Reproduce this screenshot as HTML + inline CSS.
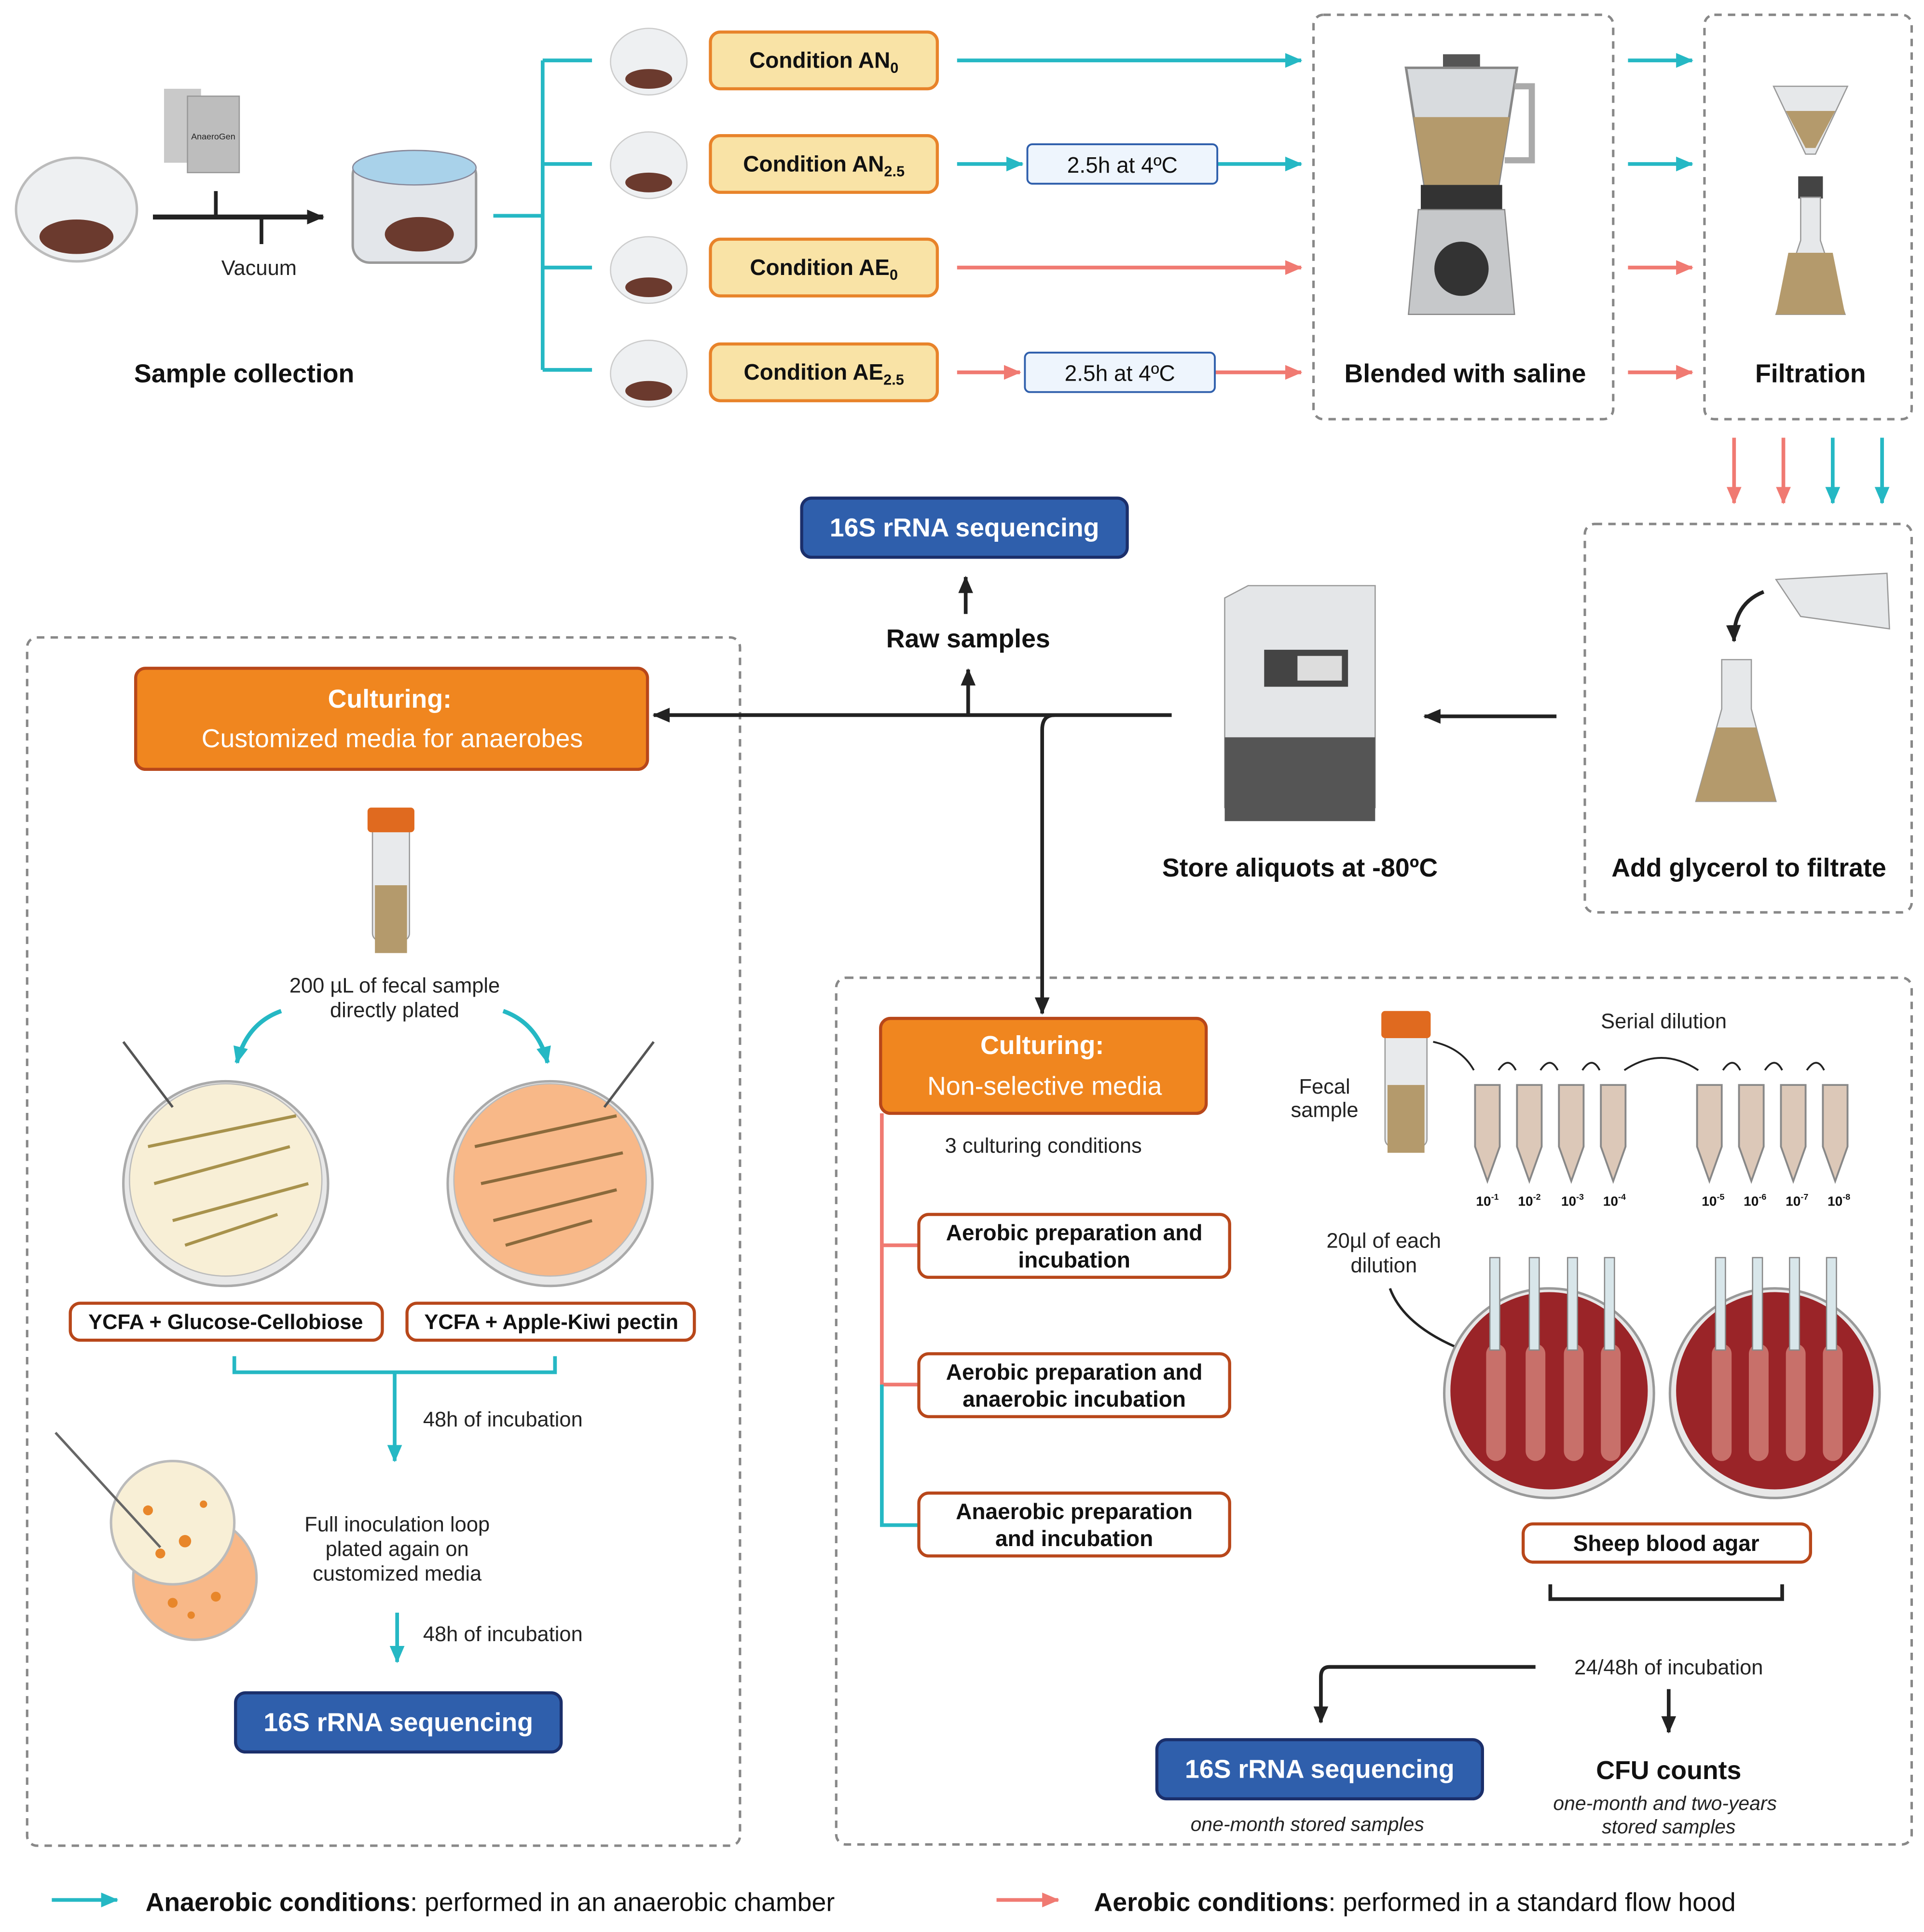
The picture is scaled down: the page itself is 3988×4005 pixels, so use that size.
<!DOCTYPE html>
<html><head><meta charset="utf-8"><style>html,body{margin:0;padding:0;background:#fff}svg{display:block}text{font-family:"Liberation Sans",Arial,sans-serif}</style></head>
<body>
<svg width="3988" height="4005" viewBox="0 0 1560 1567" preserveAspectRatio="none" xmlns="http://www.w3.org/2000/svg">
<defs>
<marker id="at" markerWidth="8" markerHeight="8" refX="7" refY="4" orient="auto" markerUnits="userSpaceOnUse"><path d="M0,0 L8,4 L0,8z" fill="#25b8c4"/></marker>
<marker id="ap" markerWidth="8" markerHeight="8" refX="7" refY="4" orient="auto" markerUnits="userSpaceOnUse"><path d="M0,0 L8,4 L0,8z" fill="#f07a72"/></marker>
<marker id="ak" markerWidth="14" markerHeight="12" refX="13" refY="6" orient="auto" markerUnits="userSpaceOnUse"><path d="M0,0 L14,6 L0,12z" fill="#222"/></marker>
<marker id="at2" markerWidth="14" markerHeight="12" refX="13" refY="6" orient="auto" markerUnits="userSpaceOnUse"><path d="M0,0 L14,6 L0,12z" fill="#25b8c4"/></marker>
<marker id="ap2" markerWidth="14" markerHeight="12" refX="13" refY="6" orient="auto" markerUnits="userSpaceOnUse"><path d="M0,0 L14,6 L0,12z" fill="#f07a72"/></marker>
</defs>
<rect width="1560" height="1567" fill="#fff"/>

<!-- dashed boxes -->
<g fill="none" stroke="#888" stroke-width="2" stroke-dasharray="6,5">
<rect x="1065" y="12" width="243" height="328" rx="8"/>
<rect x="1382" y="12" width="168" height="328" rx="8"/>
<rect x="1285" y="425" width="265" height="315" rx="8"/>
<rect x="22" y="517" width="578" height="980" rx="8"/>
<rect x="678" y="793" width="872" height="703" rx="8"/>
</g>

<!-- sample collection -->
<ellipse cx="62" cy="170" rx="49" ry="42" fill="#eef0f2" stroke="#bbb" stroke-width="2"/>
<ellipse cx="62" cy="192" rx="30" ry="14" fill="#6b3a2e"/>
<rect x="133" y="72" width="30" height="60" fill="#c9c9c9"/>
<rect x="152" y="78" width="42" height="62" fill="#bdbdbd" stroke="#999"/>
<text x="155" y="113" font-size="7" fill="#222">AnaeroGen</text>
<path d="M124 176 H262" stroke="#222" stroke-width="4" marker-end="url(#ak)"/>
<path d="M175 155 V176 M212 176 V198" stroke="#222" stroke-width="3" fill="none"/>
<text x="210" y="223" font-size="17" text-anchor="middle" fill="#222">Vacuum</text>
<rect x="286" y="128" width="100" height="85" rx="14" fill="#e3e6ea" stroke="#999" stroke-width="2"/>
<ellipse cx="336" cy="136" rx="50" ry="14" fill="#a9d2ea" stroke="#889"/>
<ellipse cx="340" cy="190" rx="28" ry="14" fill="#6b3a2e"/>
<text x="198" y="310" font-size="21" font-weight="bold" text-anchor="middle" fill="#111">Sample collection</text>

<!-- teal bracket -->
<path d="M400 175 H440 M440 49 V300 M440 49 H480 M440 133 H480 M440 217 H480 M440 300 H480" stroke="#25b8c4" stroke-width="3" fill="none"/>

<!-- 4 rows -->
<g>
<ellipse cx="526" cy="50" rx="31" ry="27" fill="#eef0f2" stroke="#ccc"/><ellipse cx="526" cy="64" rx="19" ry="8" fill="#6b3a2e"/>
<ellipse cx="526" cy="134" rx="31" ry="27" fill="#eef0f2" stroke="#ccc"/><ellipse cx="526" cy="148" rx="19" ry="8" fill="#6b3a2e"/>
<ellipse cx="526" cy="219" rx="31" ry="27" fill="#eef0f2" stroke="#ccc"/><ellipse cx="526" cy="233" rx="19" ry="8" fill="#6b3a2e"/>
<ellipse cx="526" cy="303" rx="31" ry="27" fill="#eef0f2" stroke="#ccc"/><ellipse cx="526" cy="317" rx="19" ry="8" fill="#6b3a2e"/>
</g>
<g fill="#f9e3a6" stroke="#e8832a" stroke-width="2.5">
<rect x="576" y="26" width="184" height="46" rx="8"/><rect x="576" y="110" width="184" height="46" rx="8"/>
<rect x="576" y="194" width="184" height="46" rx="8"/><rect x="576" y="279" width="184" height="46" rx="8"/>
</g>
<g font-size="18" font-weight="bold" fill="#111" text-anchor="middle">
<text x="668" y="55">Condition  AN<tspan font-size="12" dy="4">0</tspan></text>
<text x="668" y="139">Condition  AN<tspan font-size="12" dy="4">2.5</tspan></text>
<text x="668" y="223">Condition  AE<tspan font-size="12" dy="4">0</tspan></text>
<text x="668" y="308">Condition  AE<tspan font-size="12" dy="4">2.5</tspan></text>
</g>
<g stroke-width="3" fill="none">
<path d="M776 49 H1055" stroke="#25b8c4" marker-end="url(#at2)"/>
<path d="M776 133 H829" stroke="#25b8c4" marker-end="url(#at2)"/>
<path d="M987 133 H1055" stroke="#25b8c4" marker-end="url(#at2)"/>
<path d="M776 217 H1055" stroke="#f07a72" marker-end="url(#ap2)"/>
<path d="M776 302 H827" stroke="#f07a72" marker-end="url(#ap2)"/>
<path d="M985 302 H1055" stroke="#f07a72" marker-end="url(#ap2)"/>
<path d="M1320 49 H1372" stroke="#25b8c4" marker-end="url(#at2)"/>
<path d="M1320 133 H1372" stroke="#25b8c4" marker-end="url(#at2)"/>
<path d="M1320 217 H1372" stroke="#f07a72" marker-end="url(#ap2)"/>
<path d="M1320 302 H1372" stroke="#f07a72" marker-end="url(#ap2)"/>
<path d="M1406 355 V408" stroke="#f07a72" marker-end="url(#ap2)"/>
<path d="M1446 355 V408" stroke="#f07a72" marker-end="url(#ap2)"/>
<path d="M1486 355 V408" stroke="#25b8c4" marker-end="url(#at2)"/>
<path d="M1526 355 V408" stroke="#25b8c4" marker-end="url(#at2)"/>
</g>
<g fill="#eef5fd" stroke="#2f5fac" stroke-width="1.5">
<rect x="833" y="117" width="154" height="32" rx="4"/><rect x="831" y="286" width="154" height="32" rx="4"/>
</g>
<text x="910" y="140" font-size="18" text-anchor="middle" fill="#111">2.5h at 4ºC</text>
<text x="908" y="309" font-size="18" text-anchor="middle" fill="#111">2.5h at 4ºC</text>

<!-- blender -->
<path d="M1140 55 H1230 L1215 150 H1155 Z" fill="#d8dbde" stroke="#888" stroke-width="2"/>
<path d="M1146 95 H1224 L1215 150 H1155 Z" fill="#b49a6c"/>
<rect x="1170" y="44" width="30" height="10" fill="#555"/>
<path d="M1228 70 h14 v60 h-22" fill="none" stroke="#aaa" stroke-width="5"/>
<rect x="1152" y="150" width="66" height="20" fill="#333"/>
<path d="M1150 170 H1220 L1228 255 H1142 Z" fill="#c6c8ca" stroke="#888"/>
<circle cx="1185" cy="218" r="22" fill="#333"/>
<text x="1188" y="310" font-size="21" font-weight="bold" text-anchor="middle" fill="#111">Blended with saline</text>

<!-- filtration -->
<path d="M1438 70 H1498 L1472 125 H1464 Z" fill="#e6e8ea" stroke="#999"/>
<path d="M1448 90 H1488 L1472 120 H1464 Z" fill="#b49a6c"/>
<rect x="1458" y="143" width="20" height="18" fill="#444"/>
<path d="M1460 160 V195 L1440 255 H1496 L1476 195 V160 Z" fill="#e6e8ea" stroke="#999"/>
<path d="M1450 205 H1486 L1496 255 H1440 Z" fill="#b49a6c"/>
<text x="1468" y="310" font-size="21" font-weight="bold" text-anchor="middle" fill="#111">Filtration</text>

<!-- glycerol -->
<path d="M1440 470 L1530 465 L1532 510 L1460 500 Z" fill="#e6e8ea" stroke="#999"/>
<path d="M1430 480 Q1405 490 1406 520" stroke="#222" stroke-width="3" fill="none" marker-end="url(#ak)"/>
<path d="M1396 535 V575 L1375 650 H1440 L1420 575 V535 Z" fill="#e6e8ea" stroke="#999"/>
<path d="M1392 590 H1424 L1440 650 H1375 Z" fill="#b49a6c"/>
<text x="1418" y="711" font-size="21" font-weight="bold" text-anchor="middle" fill="#111">Add glycerol to filtrate</text>
<path d="M1262 581 H1155" stroke="#222" stroke-width="3" marker-end="url(#ak)"/>

<!-- freezer -->
<path d="M993 485 L1012 475 H1115 V655 H993 Z" fill="#e4e6e8" stroke="#999"/>
<rect x="993" y="598" width="122" height="68" fill="#555"/>
<rect x="1025" y="527" width="68" height="30" fill="#444"/>
<rect x="1052" y="532" width="36" height="20" fill="#ddd"/>
<text x="1054" y="711" font-size="21" font-weight="bold" text-anchor="middle" fill="#111">Store aliquots at -80ºC</text>

<!-- center connectors -->
<path d="M950 580 H530" stroke="#222" stroke-width="3" fill="none" marker-end="url(#ak)"/>
<path d="M785 580 V543" stroke="#222" stroke-width="3" fill="none" marker-end="url(#ak)"/>
<path d="M855 580 Q845 580 845 592 V822" stroke="#222" stroke-width="3" fill="none" marker-end="url(#ak)"/>
<text x="785" y="525" font-size="21" font-weight="bold" text-anchor="middle" fill="#111">Raw samples</text>
<path d="M783 498 V468" stroke="#222" stroke-width="3" marker-end="url(#ak)"/>

<!-- blue boxes -->
<g fill="#2f5fac" stroke="#1b2f6b" stroke-width="2.5">
<rect x="650" y="404" width="264" height="48" rx="8"/>
<rect x="191" y="1373" width="264" height="48" rx="8"/>
<rect x="938" y="1411" width="264" height="48" rx="8"/>
</g>
<g font-size="21" font-weight="bold" fill="#fff" text-anchor="middle">
<text x="782" y="435">16S rRNA sequencing</text>
<text x="323" y="1404">16S rRNA sequencing</text>
<text x="1070" y="1442">16S rRNA sequencing</text>
</g>

<!-- orange boxes -->
<g fill="#f0861f" stroke="#b8471a" stroke-width="2.5">
<rect x="110" y="542" width="415" height="82" rx="8"/>
<rect x="714" y="826" width="264" height="77" rx="8"/>
</g>
<g font-size="21" fill="#fff" text-anchor="middle">
<text x="316" y="574" font-weight="bold">Culturing:</text>
<text x="318" y="606">Customized media for anaerobes</text>
<text x="845" y="855" font-weight="bold">Culturing:</text>
<text x="847" y="888">Non-selective media</text>
</g>

<!-- left panel -->
<rect x="302" y="668" width="30" height="95" rx="6" fill="#e8eaec" stroke="#999"/>
<rect x="304" y="718" width="26" height="55" fill="#b49a6c"/>
<rect x="298" y="655" width="38" height="20" rx="3" fill="#e06a1f"/>
<text x="320" y="805" font-size="17" text-anchor="middle" fill="#222">200 µL of fecal sample</text>
<text x="320" y="825" font-size="17" text-anchor="middle" fill="#222">directly plated</text>
<path d="M228 820 Q200 830 192 862" stroke="#25b8c4" stroke-width="3.5" fill="none" marker-end="url(#at2)"/>
<path d="M408 820 Q436 830 444 862" stroke="#25b8c4" stroke-width="3.5" fill="none" marker-end="url(#at2)"/>
<circle cx="183" cy="960" r="83" fill="#e8e8e8" stroke="#aaa" stroke-width="2"/>
<circle cx="183" cy="957" r="78" fill="#f8efd6" stroke="#bbb"/>
<path d="M120 930 L240 905 M125 960 L235 930 M140 990 L250 960 M150 1010 L225 985" stroke="#a8924c" stroke-width="2.5"/>
<path d="M100 845 L140 898" stroke="#555" stroke-width="2"/>
<circle cx="446" cy="960" r="83" fill="#e8e8e8" stroke="#aaa" stroke-width="2"/>
<circle cx="446" cy="957" r="78" fill="#f8b888" stroke="#bbb"/>
<path d="M385 930 L500 905 M390 960 L505 935 M400 990 L500 965 M410 1010 L480 990" stroke="#8a6a3c" stroke-width="2.5"/>
<path d="M530 845 L490 898" stroke="#555" stroke-width="2"/>
<g fill="#fff" stroke="#b8471a" stroke-width="2.5">
<rect x="57" y="1057" width="253" height="30" rx="8"/><rect x="330" y="1057" width="233" height="30" rx="8"/>
</g>
<g font-size="17" font-weight="bold" fill="#111" text-anchor="middle">
<text x="183" y="1078">YCFA + Glucose-Cellobiose</text>
<text x="447" y="1078">YCFA + Apple-Kiwi pectin</text>
</g>
<path d="M190 1100 V1113 H450 V1100 M320 1113 V1185" stroke="#25b8c4" stroke-width="3" fill="none" marker-end="url(#at2)"/>
<text x="343" y="1157" font-size="17" fill="#222">48h of incubation</text>
<circle cx="158" cy="1280" r="50" fill="#f8b888" stroke="#bbb" stroke-width="2"/>
<circle cx="140" cy="1235" r="50" fill="#f8efd6" stroke="#bbb" stroke-width="2"/>
<g fill="#e8862a"><circle cx="120" cy="1225" r="4"/><circle cx="150" cy="1250" r="5"/><circle cx="130" cy="1260" r="4"/><circle cx="165" cy="1220" r="3"/><circle cx="140" cy="1300" r="4"/><circle cx="175" cy="1295" r="4"/><circle cx="155" cy="1310" r="3"/></g>
<path d="M45 1162 L130 1255" stroke="#666" stroke-width="2"/>
<text x="322" y="1242" font-size="17" text-anchor="middle" fill="#222">Full inoculation loop</text>
<text x="322" y="1262" font-size="17" text-anchor="middle" fill="#222">plated again on</text>
<text x="322" y="1282" font-size="17" text-anchor="middle" fill="#222">customized media</text>
<path d="M322 1308 V1348" stroke="#25b8c4" stroke-width="3" marker-end="url(#at2)"/>
<text x="343" y="1331" font-size="17" fill="#222">48h of incubation</text>

<!-- right panel -->
<text x="846" y="935" font-size="17" text-anchor="middle" fill="#222">3 culturing conditions</text>
<path d="M715 903 V1010 H745 M715 1010 V1123 H745" stroke="#f07a72" stroke-width="3" fill="none"/>
<path d="M715 1123 V1237 H745" stroke="#25b8c4" stroke-width="3" fill="none"/>
<g fill="#fff" stroke="#b8471a" stroke-width="2.5">
<rect x="745" y="985" width="252" height="51" rx="8"/><rect x="745" y="1098" width="252" height="51" rx="8"/>
<rect x="745" y="1211" width="252" height="51" rx="8"/><rect x="1235" y="1236" width="233" height="31" rx="8"/>
</g>
<g font-size="18" font-weight="bold" fill="#111" text-anchor="middle">
<text x="871" y="1006">Aerobic preparation and</text><text x="871" y="1028">incubation</text>
<text x="871" y="1119">Aerobic preparation and</text><text x="871" y="1141">anaerobic incubation</text>
<text x="871" y="1232">Anaerobic preparation</text><text x="871" y="1254">and incubation</text>
<text x="1351" y="1258">Sheep blood agar</text>
</g>
<rect x="1123" y="830" width="34" height="100" rx="6" fill="#e8eaec" stroke="#999"/>
<rect x="1125" y="880" width="30" height="55" fill="#b49a6c"/>
<rect x="1120" y="820" width="40" height="22" rx="3" fill="#e06a1f"/>
<text x="1074" y="887" font-size="17" text-anchor="middle" fill="#222">Fecal</text>
<text x="1074" y="906" font-size="17" text-anchor="middle" fill="#222">sample</text>
<text x="1349" y="834" font-size="17" text-anchor="middle" fill="#222">Serial dilution</text>
<g fill="#dcc8b8" stroke="#888" stroke-width="1.5">
<path d="M1196 880 h20 v50 l-10 28 l-10 -28z"/><path d="M1230 880 h20 v50 l-10 28 l-10 -28z"/>
<path d="M1264 880 h20 v50 l-10 28 l-10 -28z"/><path d="M1298 880 h20 v50 l-10 28 l-10 -28z"/>
<path d="M1376 880 h20 v50 l-10 28 l-10 -28z"/><path d="M1410 880 h20 v50 l-10 28 l-10 -28z"/>
<path d="M1444 880 h20 v50 l-10 28 l-10 -28z"/><path d="M1478 880 h20 v50 l-10 28 l-10 -28z"/>
</g>
<g font-size="11" font-weight="bold" fill="#111" text-anchor="middle">
<text x="1206" y="978">10<tspan font-size="7" dy="-5">-1</tspan></text><text x="1240" y="978">10<tspan font-size="7" dy="-5">-2</tspan></text>
<text x="1275" y="978">10<tspan font-size="7" dy="-5">-3</tspan></text><text x="1309" y="978">10<tspan font-size="7" dy="-5">-4</tspan></text>
<text x="1389" y="978">10<tspan font-size="7" dy="-5">-5</tspan></text><text x="1423" y="978">10<tspan font-size="7" dy="-5">-6</tspan></text>
<text x="1457" y="978">10<tspan font-size="7" dy="-5">-7</tspan></text><text x="1491" y="978">10<tspan font-size="7" dy="-5">-8</tspan></text>
</g>
<path d="M1162 845 Q1185 850 1195 868 M1215 868 q8 -12 14 0 M1249 868 q8 -12 14 0 M1283 868 q8 -12 14 0 M1317 868 q30 -20 60 0 M1397 868 q8 -12 14 0 M1431 868 q8 -12 14 0 M1465 868 q8 -12 14 0" stroke="#222" stroke-width="1.5" fill="none"/>
<text x="1122" y="1012" font-size="17" text-anchor="middle" fill="#222">20µl of each</text>
<text x="1122" y="1032" font-size="17" text-anchor="middle" fill="#222">dilution</text>
<path d="M1127 1045 Q1140 1080 1200 1100" stroke="#222" stroke-width="2" fill="none" marker-end="url(#ak)"/>
<circle cx="1256" cy="1130" r="85" fill="#e8e8e8" stroke="#999" stroke-width="2"/>
<circle cx="1256" cy="1128" r="80" fill="#9a2428"/>
<circle cx="1439" cy="1130" r="85" fill="#e8e8e8" stroke="#999" stroke-width="2"/>
<circle cx="1439" cy="1128" r="80" fill="#9a2428"/>
<g fill="#c8706a"><rect x="1205" y="1090" width="16" height="95" rx="8"/><rect x="1237" y="1090" width="16" height="95" rx="8"/><rect x="1268" y="1090" width="16" height="95" rx="8"/><rect x="1298" y="1090" width="16" height="95" rx="8"/>
<rect x="1388" y="1090" width="16" height="95" rx="8"/><rect x="1418" y="1090" width="16" height="95" rx="8"/><rect x="1448" y="1090" width="16" height="95" rx="8"/><rect x="1478" y="1090" width="16" height="95" rx="8"/></g>
<g fill="#d8e6ea" stroke="#888"><rect x="1208" y="1020" width="8" height="75"/><rect x="1240" y="1020" width="8" height="75"/><rect x="1271" y="1020" width="8" height="75"/><rect x="1301" y="1020" width="8" height="75"/>
<rect x="1391" y="1020" width="8" height="75"/><rect x="1421" y="1020" width="8" height="75"/><rect x="1451" y="1020" width="8" height="75"/><rect x="1481" y="1020" width="8" height="75"/></g>
<path d="M1257 1285 V1297 H1445 V1285" stroke="#222" stroke-width="3" fill="none"/>
<path d="M1245 1352 H1078 Q1071 1352 1071 1360 V1397" stroke="#222" stroke-width="3" fill="none" marker-end="url(#ak)"/>
<text x="1353" y="1358" font-size="17" text-anchor="middle" fill="#222">24/48h of incubation</text>
<path d="M1353 1370 V1405" stroke="#222" stroke-width="3" marker-end="url(#ak)"/>
<text x="1353" y="1443" font-size="21" font-weight="bold" text-anchor="middle" fill="#111">CFU counts</text>
<text x="1350" y="1468" font-size="16" font-style="italic" text-anchor="middle" fill="#222">one-month and two-years</text>
<text x="1353" y="1487" font-size="16" font-style="italic" text-anchor="middle" fill="#222">stored samples</text>
<text x="1060" y="1485" font-size="16" font-style="italic" text-anchor="middle" fill="#222">one-month stored samples</text>

<!-- legend -->
<path d="M42 1541 H95" stroke="#25b8c4" stroke-width="3" marker-end="url(#at2)"/>
<text x="118" y="1550" font-size="21" fill="#111"><tspan font-weight="bold">Anaerobic conditions</tspan>: performed in an anaerobic chamber</text>
<path d="M808 1541 H858" stroke="#f07a72" stroke-width="3" marker-end="url(#ap2)"/>
<text x="887" y="1550" font-size="21" fill="#111"><tspan font-weight="bold">Aerobic conditions</tspan>: performed in a standard flow hood</text>
</svg>
</body></html>
